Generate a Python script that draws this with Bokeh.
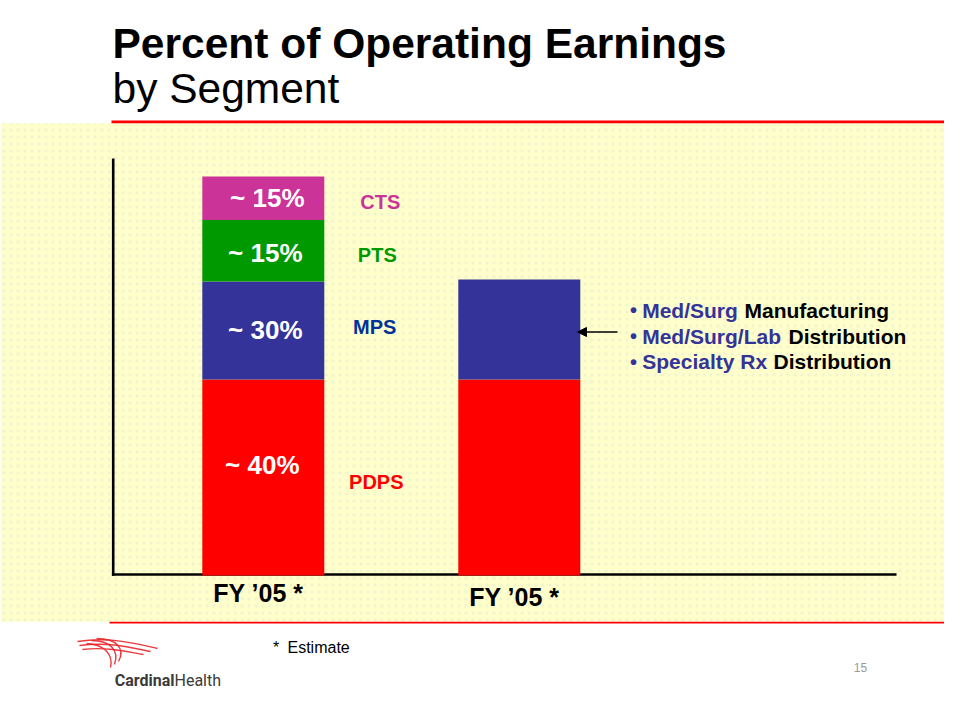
import numpy as np
from bokeh.plotting import figure
from bokeh.models import ColumnDataSource, Range1d, Label, Arrow, NormalHead
from bokeh.core.properties import value
from bokeh.embed import file_html
from bokeh.resources import INLINE

# ---------------- data ----------------
segments = ["PDPS", "MPS", "PTS", "CTS"]
seg_colors = ["#FF0000", "#333399", "#009900", "#CC3399"]
name_colors = ["#FF0000", "#003399", "#009900", "#CC3399"]
fy05_heights = [49.1, 24.6, 15.4, 10.9]          # drawn heights (bar 1)
pct_labels = ["~ 40%", "~ 30%", "~ 15%", "~ 15%"]
fy05_new_segments = ["PDPS", "MPS"]
fy05_new_heights = [49.1, 25.1]                   # drawn heights (bar 2)
bar_labels = ["FY \u201905 *", "FY \u201905 *"]
bullet_blue = ["Med/Surg", "Med/Surg/Lab", "Specialty Rx"]
bullet_black = ["Manufacturing", "Distribution", "Distribution"]

FONT = "Liberation Sans"
W, H = 944, 704

# ---------------- figure (layout coords = reference pixels) ----------------
p = figure(width=W, height=H, x_range=Range1d(0, W), y_range=Range1d(H, 0),
           x_axis_type=None, y_axis_type=None, toolbar_location=None,
           output_backend="svg", min_border=0, outline_line_color=None,
           background_fill_color="white", border_fill_color="white")
p.grid.visible = False

# data ranges for the bars
PX_X = 256.0
X0 = 262.8
p.extra_x_ranges = {"bx": Range1d(-X0 / PX_X, -X0 / PX_X + W / PX_X)}
PX_Y = 3.99
Y0 = 575.0
p.extra_y_ranges = {"by": Range1d(-(H - Y0) / PX_Y, Y0 / PX_Y)}

# background panel
p.quad(left=[0], right=[960], top=[122.7], bottom=[621.2], fill_color="#FFFFCC",
       line_color=None, hatch_pattern="dot", hatch_color="#B8C0C8", hatch_alpha=0.18,
       hatch_scale=7, hatch_weight=1)
# red rules
p.segment(x0=[111], y0=[121.3], x1=[960], y1=[121.3], line_color="#FF0000", line_width=2.7)
p.segment(x0=[109], y0=[622.2], x1=[960], y1=[622.2], line_color="#FF0000", line_width=1.7)

# axis lines
p.segment(x0=[112.7], y0=[158], x1=[112.7], y1=[575.3], line_color="black", line_width=2.6)
p.segment(x0=[111.4], y0=[574.0], x1=[896], y1=[574.0], line_color="black", line_width=2.6)

# bars
h1 = np.array(fy05_heights)
src1 = ColumnDataSource(dict(x=[0] * len(segments), top=np.cumsum(h1), bottom=np.cumsum(h1) - h1,
                             color=seg_colors, seg=segments))
p.vbar(x="x", top="top", bottom="bottom", width=122 / PX_X, fill_color="color", line_color=None,
       source=src1, x_range_name="bx", y_range_name="by")
h2 = np.array(fy05_new_heights)
src2 = ColumnDataSource(dict(x=[1] * len(fy05_new_segments), top=np.cumsum(h2), bottom=np.cumsum(h2) - h2,
                             color=seg_colors[:len(fy05_new_segments)]))
p.vbar(x="x", top="top", bottom="bottom", width=122 / PX_X, fill_color="color", line_color=None,
       source=src2, x_range_name="bx", y_range_name="by")

# percent labels in the bar and segment names beside it
mid = np.cumsum(h1) - h1 / 2
lab_src = ColumnDataSource(dict(x=[0] * 4, y=mid, t=pct_labels,
                                xo=[-1, 2, 2, 4], yo=[-13, -1, 2, 0],
                                nx=[113, 111.4, 114, 117], ny=[4.7, -3.3, 4, 4],
                                seg=segments, nc=name_colors))
p.text(x="x", y="y", text="t", x_offset="xo", y_offset="yo", source=lab_src,
       text_font=value(FONT), text_font_size=value("26px"), text_font_style="bold",
       text_color="white", text_align="center", text_baseline="middle",
       x_range_name="bx", y_range_name="by")
p.text(x="x", y="y", text="seg", x_offset="nx", y_offset="ny", source=lab_src,
       text_font=value(FONT), text_font_size=value("20px"), text_font_style="bold",
       text_color="nc", text_align="center", text_baseline="middle",
       x_range_name="bx", y_range_name="by")

# category labels
cat_src = ColumnDataSource(dict(x=[0, 1], y=[592, 596], t=bar_labels))
p.text(x="x", y="y", text="t", x_offset=-5, source=cat_src,
       text_font=value(FONT), text_font_size=value("25px"), text_font_style="bold",
       text_color="black", text_align="center", text_baseline="middle",
       x_range_name="bx")

# title
p.add_layout(Label(x=112, y=43, text="Percent of Operating Earnings", text_font=FONT,
                   text_font_size="42.5px", text_font_style="bold", text_color="black",
                   text_baseline="middle"))
p.add_layout(Label(x=112, y=88, text="by Segment", text_font=FONT,
                   text_font_size="42.5px", text_color="black", text_baseline="middle"))

# bullets
ys = [309.7, 335.5, 361.0]
blk_x = [744, 788, 773]
for yy, b, k, bx in zip(ys, bullet_blue, bullet_black, blk_x):
    p.add_layout(Label(x=629.5, y=yy, text="\u2022", text_font=FONT, text_font_size="20px",
                       text_font_style="bold", text_color="#333399", text_baseline="middle"))
    p.add_layout(Label(x=641.7, y=yy, text=b, text_font=FONT, text_font_size="21px",
                       text_font_style="bold", text_color="#333399", text_baseline="middle"))
    p.add_layout(Label(x=bx, y=yy, text=k, text_font=FONT, text_font_size="21px",
                       text_font_style="bold", text_color="black", text_baseline="middle"))

# arrow
p.add_layout(Arrow(end=NormalHead(size=9, fill_color="black", line_color="black"),
                   x_start=617, y_start=331.5, x_end=577, y_end=331.5,
                   line_color="black", line_width=1.3))

# footnote and page number
p.add_layout(Label(x=272.5, y=647, text="*", text_font=FONT, text_font_size="16px",
                   text_color="black", text_baseline="middle"))
p.add_layout(Label(x=287, y=647, text="Estimate", text_font=FONT, text_font_size="16px",
                   text_color="black", text_baseline="middle"))
p.add_layout(Label(x=860, y=667, text="15", text_font=FONT, text_font_size="12px",
                   text_color="#999999", text_baseline="middle", text_align="center"))

# logo
sw_x0 = [77, 79, 82, 86, 91, 96]
sw_y0 = [641, 645, 649, 643, 640, 638]
sw_x1 = [157, 150, 143, 110, 114, 118]
sw_y1 = [648, 651, 654, 667, 664, 661]
sw_cx0 = [110, 108, 106, 104, 110, 116]
sw_cy0 = [636, 641, 646, 644, 640, 638]
sw_cx1 = [135, 130, 125, 113, 119, 125]
sw_cy1 = [643, 647, 651, 654, 650, 648]
p.bezier(x0=sw_x0, y0=sw_y0, x1=sw_x1, y1=sw_y1, cx0=sw_cx0, cy0=sw_cy0,
         cx1=sw_cx1, cy1=sw_cy1, line_color="#E8262C", line_width=1.4, line_alpha=0.9)
LOGO_FONT = "Roboto"
p.add_layout(Label(x=174, y=680, text="Cardinal", text_font=LOGO_FONT, text_font_size="16px",
                   text_font_style="bold", text_color="#3A3A3A", text_baseline="middle",
                   text_align="right"))
p.add_layout(Label(x=174, y=680, text="Health", text_font=LOGO_FONT, text_font_size="16px",
                   text_color="#3A3A3A", text_baseline="middle", text_align="left"))

open("out.html", "w").write(file_html(p, INLINE))
